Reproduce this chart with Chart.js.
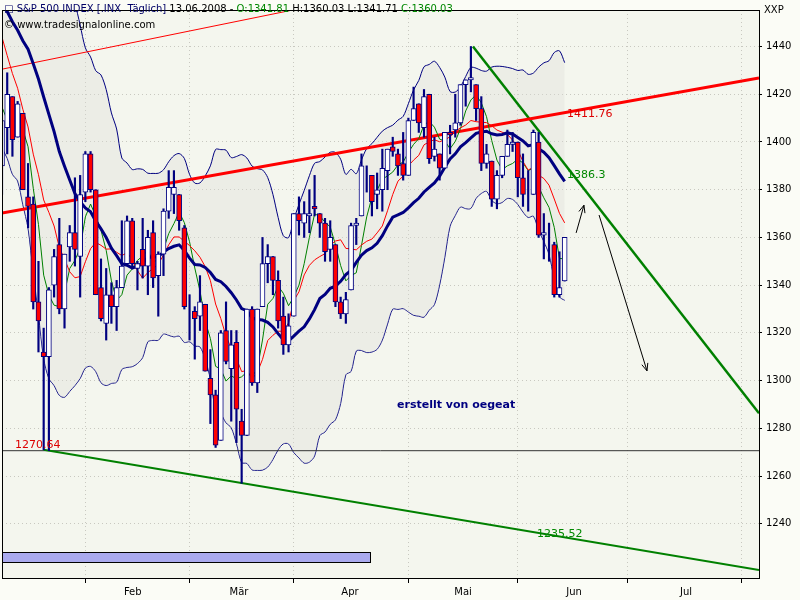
<!DOCTYPE html>
<html>
<head>
<meta charset="utf-8">
<script src="https://cdn.jsdelivr.net/npm/chart.js@4.4.1/dist/chart.umd.min.js"></script>
<style>
  body { margin: 0; background: #fbfcf6; }
  #wrap { position: relative; width: 800px; height: 600px; }
  #head { position: absolute; left: 4px; top: 3px; font: 10px "DejaVu Sans", sans-serif; color: #000066; white-space: pre; }
  #head .g { color: #008800; } #head .k { color: #000; }
  #copy { position: absolute; left: 4px; top: 19px; font: 10px "DejaVu Sans", sans-serif; color: #000; }
</style>
</head>
<body>
<div id="wrap">
  <canvas id="chart" width="800" height="600"></canvas>
  <div id="head">&#9633; S&amp;P 500 INDEX [.INX  Täglich] <span class="k">13.06.2008 - </span><span class="g">O:1341.81</span><span class="k"> H:1360.03 L:1341.71 </span><span class="g">C:1360.03</span></div>
  <div id="copy">© www.tradesignalonline.com</div>
</div>
<script>
// Daily OHLC, 02.01.2008 .. 13.06.2008 (index 0 = 2 Jan)
const opens = [1468,1447,1445,1415,1416,1390,1406,1419,1402,1412,1377,1374,1333,1312,1310,1340,1357,1330,1356,1362,1352,
  1379,1395,1380,1339,1324,1336,1331,1339,1349,1367,1347,1355,1348,1362,1344,1353,1371,1378,1378,1364,
  1331,1329,1327,1332,1301,1294,1275,1321,1305,1316,1283,1277,1330,1299,1331,1349,1352,1342,1327,1315,
  1327,1370,1366,1369,1373,1370,1366,1355,1357,1333,1328,1338,1365,1369,1388,1386,1378,1380,1388,1398,1395,1391,
  1386,1409,1416,1406,1420,1394,1395,1389,1404,1405,1408,1424,1426,1424,1414,1391,1392,1376,1386,1394,1399,
  1400,1385,1378,1378,1400,1361,1358,1357,1336,1341.81];
const highs = [1471,1456,1445,1423,1428,1409,1429,1419,1417,1412,1391,1377,1350,1322,1339,1355,1368,1353,1365,1385,1386,
  1396,1396,1380,1351,1347,1341,1342,1367,1369,1368,1350,1368,1363,1367,1354,1372,1388,1388,1378,1365,
  1336,1331,1344,1332,1313,1296,1321,1333,1321,1321,1288,1330,1331,1330,1360,1357,1352,1346,1335,1328,
  1370,1377,1375,1380,1386,1370,1368,1367,1357,1335,1337,1366,1368,1395,1390,1386,1387,1397,1397,1402,1397,1404,
  1410,1423,1416,1422,1420,1402,1395,1404,1407,1420,1424,1426,1440,1424,1419,1399,1392,1388,1394,1405,1404,
  1400,1395,1388,1405,1404,1370,1366,1358,1354,1360.03];
const lows = [1442,1443,1411,1406,1389,1378,1395,1394,1402,1380,1364,1330,1312,1271,1270.64,1335,1328,1322,1350,1348,1335,
  1375,1379,1336,1325,1317,1324,1321,1339,1349,1347,1338,1343,1336,1339,1327,1344,1368,1370,1363,1330,
  1317,1309,1321,1304,1282,1272,1275,1307,1283,1274,1257,1277,1298,1295,1331,1341,1336,1322,1311,1312,
  1327,1361,1360,1362,1369,1360,1350,1350,1331,1326,1324,1338,1357,1369,1379,1369,1372,1371,1380,1394,1386,1384,
  1386,1409,1404,1402,1391,1392,1384,1389,1395,1402,1407,1415,1421,1409,1388,1389,1373,1372,1385,1394,1396,
  1377,1373,1371,1378,1360,1351,1350,1335,1335,1341.71];
const closes = [1447,1447,1411,1416,1390,1409,1420,1401,1416,1380,1373,1333,1325,1310,1338,1352,1330,1353,1362,1355,1378,
  1395,1380,1336,1326,1336,1331,1339,1348,1367,1349,1349,1348,1360,1343,1353,1371,1381,1381,1367,1331,
  1331,1326,1333,1304,1294,1273,1320,1308,1315,1288,1277,1330,1299,1330,1349,1352,1342,1325,1315,1323,
  1370,1367,1370,1370,1372,1366,1354,1360,1333,1328,1334,1365,1366,1390,1388,1375,1380,1389,1397,1396,1390,1386,
  1409,1414,1408,1419,1393,1397,1389,1404,1403,1408,1424,1426,1427,1414,1391,1395,1376,1386,1394,1399,1400,
  1385,1378,1378,1404,1361,1362,1358,1336,1339,1360.03];
// closes of December 2007, needed to start the averages
const prevCloses = [1472,1462,1485,1507,1504,1515,1477,1486,1488,1467,1445,1454,1453,1461,1484,1496,1497,1476,1478,1468];

// month starts (index) and label positions
const monthStarts = [21, 41, 61, 83, 104, 125, 147];
const monthLabels = ['Feb', 'Mär', 'Apr', 'Mai', 'Jun', 'Jul', ''];
const monthMids = [30.1, 50.5, 71.8, 93.5, 114.8, 136.3, 150];
const yTicks = [1240, 1260, 1280, 1300, 1320, 1340, 1360, 1380, 1400, 1420, 1440];

const allCloses = prevCloses.concat(closes);
function sma(n, i) {
    const k = i + prevCloses.length;
    let s = 0;
    for (let j = k - n + 1; j <= k; j++) s += allCloses[j];
    return s / n;
}
function sd20(i) {
    const k = i + prevCloses.length, m = sma(20, i);
    let s = 0;
    for (let j = k - 19; j <= k; j++) s += (allCloses[j] - m) ** 2;
    return Math.sqrt(s / 20);
}

const idx = closes.map((c, i) => i);
const ma20 = idx.map(i => ({ x: i, y: sma(20, i) }));
const ma10 = idx.map(i => ({ x: i, y: sma(10, i) }));
const ma5 = idx.map(i => ({ x: i, y: sma(5, i) }));
const bbUp = idx.map(i => ({ x: i, y: sma(20, i) + 2 * sd20(i) }));
const bbLo = idx.map(i => ({ x: i, y: sma(20, i) - 2 * sd20(i) }));

const up = closes.map((c, i) => c >= opens[i]);
const bodies = idx.map(i => ({ x: i, y: [opens[i], closes[i]] }));
const wicks = idx.map(i => ({ x: i, y: [lows[i], highs[i]] }));

function seg(pts, color, width) {
    return { type: 'line', data: pts.map(p => ({ x: p[0], y: p[1] })), borderColor: color, borderWidth: width,
        pointRadius: 0, fill: false, order: 3, tension: 0 };
}

const textPlugin = {
    id: 'extras',
    beforeDraw(chart) {
        const { ctx, chartArea: a } = chart;
        ctx.save();
        ctx.fillStyle = '#f4f6ee';
        ctx.fillRect(a.left, a.top, a.right - a.left, a.bottom - a.top);
        ctx.restore();
    },
    afterDatasetsDraw(chart) {
        const { ctx, chartArea: a } = chart;
        const xs = chart.scales.x, ys = chart.scales.y;
        ctx.save();
        // arrow heads
        [[115.2, 1361.9, 116.7, 1373.5], [119.6, 1369.4, 128.8, 1304.1]].forEach(function(r) {
            const x1 = xs.getPixelForValue(r[0]), y1 = ys.getPixelForValue(r[1]);
            const x2 = xs.getPixelForValue(r[2]), y2 = ys.getPixelForValue(r[3]);
            const ang = Math.atan2(y2 - y1, x2 - x1);
            ctx.strokeStyle = '#000'; ctx.lineWidth = 1;
            ctx.beginPath();
            ctx.moveTo(x2 - 8 * Math.cos(ang - 0.4), y2 - 8 * Math.sin(ang - 0.4));
            ctx.lineTo(x2, y2);
            ctx.lineTo(x2 - 8 * Math.cos(ang + 0.4), y2 - 8 * Math.sin(ang + 0.4));
            ctx.stroke();
        });
        ctx.font = '11px "DejaVu Sans", sans-serif';
        ctx.textBaseline = 'middle';
        ctx.fillStyle = '#dd0000';
        ctx.fillText('1270.64', 15, ys.getPixelForValue(1273));
        ctx.fillText('1411.76', 567, ys.getPixelForValue(1411.76));
        ctx.fillStyle = '#008800';
        ctx.fillText('1386.3', 567, ys.getPixelForValue(1386.3));
        ctx.fillText('1235.52', 537, ys.getPixelForValue(1235.52));
        ctx.fillStyle = '#000080';
        ctx.font = 'bold 11px "DejaVu Sans", sans-serif';
        ctx.fillText('erstellt von oegeat', 397, 405);
        // progress box
        ctx.fillStyle = '#aaaaee';
        ctx.fillRect(2.5, 552.5, 368, 10);
        ctx.strokeStyle = '#000';
        ctx.strokeRect(2.5, 552.5, 368, 10);
        ctx.fillStyle = '#000';
        ctx.font = '10px "DejaVu Sans", sans-serif';
        ctx.fillText('XXP', 764, 10);
        // frame
        ctx.strokeStyle = '#000';
        ctx.strokeRect(a.left + 0.5, a.top + 0.5, a.right - a.left, a.bottom - a.top);
        ctx.restore();
    }
};

new Chart(document.getElementById('chart'), {
    type: 'bar',
    data: {
        datasets: [
            { data: bodies, backgroundColor: up.map(u => u ? '#ffffff' : '#ff0000'), borderColor: '#000080',
              borderWidth: 1, borderSkipped: false, barThickness: 5, order: 0 },
            { data: wicks, backgroundColor: '#000080', barThickness: 1.5, order: 1 },
            { type: 'line', data: ma20, borderColor: '#000080', borderWidth: 3, pointRadius: 0, order: 2 },
            { type: 'line', data: ma10, borderColor: '#ff0000', borderWidth: 1, pointRadius: 0, order: 2 },
            { type: 'line', data: ma5, borderColor: '#008000', borderWidth: 1, pointRadius: 0, order: 2 },
            { type: 'line', data: bbUp, borderColor: '#000080', borderWidth: 1, pointRadius: 0, order: 6,
              fill: '+1', backgroundColor: 'rgba(220,222,214,0.35)', tension: 0.3 },
            { type: 'line', data: bbLo, borderColor: '#000080', borderWidth: 1, pointRadius: 0, order: 6, tension: 0.3 },
            seg([[5, 1370.2], [150.3, 1426.8]], '#ff0000', 3),
            seg([[5, 1430.5], [62.6, 1456.1]], '#ff0000', 1),
            seg([[95.4, 1440], [150.3, 1286.3]], '#008000', 2.5),
            seg([[13, 1271], [150.3, 1220.6]], '#008000', 2),
            seg([[0, 1270.64], [155, 1270.64]], '#333333', 1),
            seg([[115.2, 1361.9], [116.7, 1373.5]], '#000000', 1),
            seg([[119.6, 1369.4], [128.8, 1304.1]], '#000000', 1)
        ]
    },
    options: {
        responsive: false,
        animation: false,
        layout: { padding: { left: 2, top: 2, right: 0, bottom: 0 } },
        plugins: { legend: { display: false }, tooltip: { enabled: false } },
        datasets: { bar: { grouped: false }, line: { fill: false } },
        scales: {
            x: {
                type: 'linear', min: 5, max: 150.3, offset: false,
                afterBuildTicks(s) {
                    const t = [];
                    monthStarts.forEach((m, i) => { t.push({ value: m }); t.push({ value: monthMids[i] }); });
                    s.ticks = t.filter(v => v.value <= 150.3);
                },
                afterFit(s) { s.height = 22; },
                ticks: {
                    autoSkip: false, maxRotation: 0, color: '#000', font: { family: 'DejaVu Sans', size: 10 },
                    callback(v, i) { return i % 2 ? monthLabels[(i - 1) / 2] : ''; }
                },
                grid: {
                    offset: false,
                    color: c => c.index % 2 ? 'rgba(0,0,0,0)' : '#c8c8c0',
                    tickColor: c => c.index % 2 ? 'rgba(0,0,0,0)' : '#000',
                    tickLength: 5, drawOnChartArea: true
                },
                border: { display: false, dash: [1, 3] }
            },
            y: {
                position: 'right', min: 1217.3, max: 1455.3,
                afterBuildTicks(s) { s.ticks = yTicks.map(v => ({ value: v })); },
                afterFit(s) { s.width = 41; },
                ticks: { color: '#000', font: { family: 'DejaVu Sans', size: 10 }, padding: 4, callback: v => String(v) },
                grid: { color: '#c8c8c0', tickLength: 3, tickColor: '#000' },
                border: { display: false, dash: [1, 3] }
            }
        }
    },
    plugins: [textPlugin]
});
</script>
</body>
</html>
